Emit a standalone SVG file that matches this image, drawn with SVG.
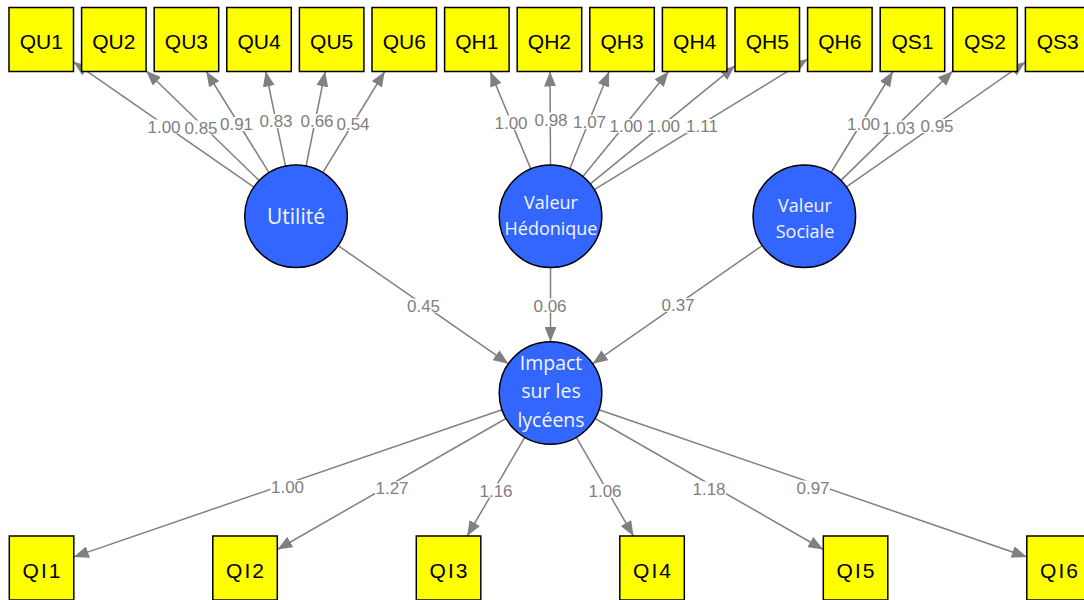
<svg xmlns="http://www.w3.org/2000/svg" width="1084" height="600" viewBox="0 0 1084 600">
<style>
.box rect{fill:#ffff00;stroke:#000;stroke-width:1.5}
.box text{font-family:"Liberation Sans",Arial,sans-serif;font-size:21px;fill:#000;text-anchor:middle}
.qi text{letter-spacing:2px}
.lat circle{fill:#3366ff;stroke:#000;stroke-width:1.5}
.lat text{font-family:"Open Sans","Noto Sans",sans-serif;font-size:18px;fill:#f2f5ff;text-anchor:middle}
.e{stroke:#808080;stroke-width:1.5;fill:none;marker-end:url(#ah)}
.lb rect{fill:#fff}
.lb text{font-family:"Liberation Sans",Arial,sans-serif;font-size:17px;fill:#808080;text-anchor:middle}
</style>
<defs>
<marker id="ah" markerUnits="userSpaceOnUse" markerWidth="15" markerHeight="12" refX="15" refY="6" orient="auto">
<path d="M0,0 L15,6 L0,12 z" fill="#808080"/>
</marker>
</defs>
<rect width="1084" height="600" fill="#fff"/>
<g id="connectors">
<line class="e" x1="253.9" y1="187.1" x2="73.5" y2="61.9"/>
<line class="e" x1="259.2" y1="180.6" x2="146.1" y2="70.8"/>
<line class="e" x1="269.0" y1="172.7" x2="206.3" y2="71.5"/>
<line class="e" x1="285.5" y1="166.1" x2="265.7" y2="71.5"/>
<line class="e" x1="306.1" y1="166.0" x2="325.2" y2="71.5"/>
<line class="e" x1="322.8" y1="172.6" x2="384.7" y2="71.5"/>
<line class="e" x1="530.8" y1="168.9" x2="490.2" y2="71.5"/>
<line class="e" x1="550.5" y1="165.0" x2="550.0" y2="71.5"/>
<line class="e" x1="569.8" y1="168.7" x2="609.1" y2="71.5"/>
<line class="e" x1="582.9" y1="176.5" x2="668.6" y2="71.5"/>
<line class="e" x1="590.3" y1="183.9" x2="735.0" y2="65.8"/>
<line class="e" x1="594.3" y1="189.6" x2="807.6" y2="59.2"/>
<line class="e" x1="831.1" y1="172.5" x2="892.9" y2="71.5"/>
<line class="e" x1="841.0" y1="180.4" x2="952.8" y2="71.0"/>
<line class="e" x1="846.4" y1="186.9" x2="1025.4" y2="62.0"/>
<line class="e" x1="338.1" y1="245.6" x2="508.4" y2="363.7"/>
<line class="e" x1="550.5" y1="267.6" x2="550.5" y2="341.7"/>
<line class="e" x1="762.2" y1="245.6" x2="592.6" y2="363.7"/>
<line class="e" x1="502.0" y1="409.7" x2="73.8" y2="556.9"/>
<line class="e" x1="506.0" y1="418.5" x2="277.3" y2="549.5"/>
<line class="e" x1="524.7" y1="437.3" x2="467.2" y2="536.0"/>
<line class="e" x1="576.3" y1="437.4" x2="633.5" y2="536.0"/>
<line class="e" x1="595.0" y1="418.5" x2="823.3" y2="549.5"/>
<line class="e" x1="599.0" y1="409.7" x2="1026.8" y2="556.9"/>
<g class="lb">
<rect x="147" y="119.5" width="34" height="14"/><text x="164" y="132.6">1.00</text>
<rect x="184" y="120.5" width="34" height="14"/><text x="201" y="133.6">0.85</text>
<rect x="219.5" y="117" width="34" height="14"/><text x="236.5" y="130.1">0.91</text>
<rect x="259" y="114" width="34" height="14"/><text x="276" y="127.1">0.83</text>
<rect x="300" y="114" width="34" height="14"/><text x="317" y="127.1">0.66</text>
<rect x="336" y="117" width="34" height="14"/><text x="353" y="130.1">0.54</text>
<rect x="494" y="115.5" width="34" height="14"/><text x="511" y="128.6">1.00</text>
<rect x="534" y="112.5" width="34" height="14"/><text x="551" y="125.6">0.98</text>
<rect x="572.5" y="115" width="34" height="14"/><text x="589.5" y="128.1">1.07</text>
<rect x="609" y="119" width="34" height="14"/><text x="626" y="132.1">1.00</text>
<rect x="646.5" y="119" width="34" height="14"/><text x="663.5" y="132.1">1.00</text>
<rect x="685" y="119" width="34" height="14"/><text x="702" y="132.1">1.11</text>
<rect x="846.5" y="117" width="34" height="14"/><text x="863.5" y="130.1">1.00</text>
<rect x="881.5" y="120.5" width="34" height="14"/><text x="898.5" y="133.6">1.03</text>
<rect x="920" y="119" width="34" height="14"/><text x="937" y="132.1">0.95</text>
<rect x="406.5" y="298.5" width="34" height="14"/><text x="423.5" y="311.6">0.45</text>
<rect x="533" y="298.5" width="34" height="14"/><text x="550" y="311.6">0.06</text>
<rect x="661" y="298" width="34" height="14"/><text x="678" y="311.1">0.37</text>
<rect x="270.5" y="480" width="34" height="14"/><text x="287.5" y="493.1">1.00</text>
<rect x="375" y="481" width="34" height="14"/><text x="392" y="494.1">1.27</text>
<rect x="479" y="483.5" width="34" height="14"/><text x="496" y="496.6">1.16</text>
<rect x="588" y="484" width="34" height="14"/><text x="605" y="497.1">1.06</text>
<rect x="692" y="481.5" width="34" height="14"/><text x="709" y="494.6">1.18</text>
<rect x="796" y="480.5" width="34" height="14"/><text x="813" y="493.6">0.97</text>
</g>
</g>
<g id="QU1" class="box"><rect x="9" y="7.5" width="64.5" height="64"/><text x="41.25" y="48.5">QU1</text></g>
<g id="QU2" class="box"><rect x="81.6" y="7.5" width="64.5" height="64"/><text x="113.85" y="48.5">QU2</text></g>
<g id="QU3" class="box"><rect x="154.2" y="7.5" width="64.5" height="64"/><text x="186.45" y="48.5">QU3</text></g>
<g id="QU4" class="box"><rect x="226.8" y="7.5" width="64.5" height="64"/><text x="259.05" y="48.5">QU4</text></g>
<g id="QU5" class="box"><rect x="299.4" y="7.5" width="64.5" height="64"/><text x="331.65" y="48.5">QU5</text></g>
<g id="QU6" class="box"><rect x="372" y="7.5" width="64.5" height="64"/><text x="404.25" y="48.5">QU6</text></g>
<g id="QH1" class="box"><rect x="444.6" y="7.5" width="64.5" height="64"/><text x="476.85" y="48.5">QH1</text></g>
<g id="QH2" class="box"><rect x="517.2" y="7.5" width="64.5" height="64"/><text x="549.45" y="48.5">QH2</text></g>
<g id="QH3" class="box"><rect x="589.8" y="7.5" width="64.5" height="64"/><text x="622.05" y="48.5">QH3</text></g>
<g id="QH4" class="box"><rect x="662.4" y="7.5" width="64.5" height="64"/><text x="694.65" y="48.5">QH4</text></g>
<g id="QH5" class="box"><rect x="735" y="7.5" width="64.5" height="64"/><text x="767.25" y="48.5">QH5</text></g>
<g id="QH6" class="box"><rect x="807.6" y="7.5" width="64.5" height="64"/><text x="839.85" y="48.5">QH6</text></g>
<g id="QS1" class="box"><rect x="880.2" y="7.5" width="64.5" height="64"/><text x="912.45" y="48.5">QS1</text></g>
<g id="QS2" class="box"><rect x="952.8" y="7.5" width="64.5" height="64"/><text x="985.05" y="48.5">QS2</text></g>
<g id="QS3" class="box"><rect x="1025.4" y="7.5" width="64.5" height="64"/><text x="1057.65" y="48.5">QS3</text></g>
<g id="QI1" class="box qi"><rect x="9.3" y="536" width="64.5" height="64"/><text x="42.55" y="578">QI1</text></g>
<g id="QI2" class="box qi"><rect x="212.8" y="536" width="64.5" height="64"/><text x="246.05" y="578">QI2</text></g>
<g id="QI3" class="box qi"><rect x="416.3" y="536" width="64.5" height="64"/><text x="449.55" y="578">QI3</text></g>
<g id="QI4" class="box qi"><rect x="619.8" y="536" width="64.5" height="64"/><text x="653.05" y="578">QI4</text></g>
<g id="QI5" class="box qi"><rect x="823.3" y="536" width="64.5" height="64"/><text x="856.55" y="578">QI5</text></g>
<g id="QI6" class="box qi"><rect x="1026.8" y="536" width="64.5" height="64"/><text x="1060.05" y="578">QI6</text></g>
<g id="Utilite" class="lat"><circle cx="296" cy="216.3" r="51.3"/><text x="296" y="224" style="font-size:21px">Utilité</text></g>
<g id="ValeurHedonique" class="lat"><circle cx="550.5" cy="216.3" r="51.3"/><text x="551" y="209.3">Valeur</text><text x="551" y="235">Hédonique</text></g>
<g id="ValeurSociale" class="lat"><circle cx="804.3" cy="216.3" r="51.3"/><text x="805" y="212.3">Valeur</text><text x="805" y="238.3">Sociale</text></g>
<g id="Impact" class="lat" style="font-size:19.5px"><circle cx="550.5" cy="393" r="51.3"/><text x="551" y="370" style="font-size:19.5px">Impact</text><text x="551" y="398.3" style="font-size:19.5px">sur les</text><text x="551" y="426.7" style="font-size:19.5px">lycéens</text></g>
</svg>
